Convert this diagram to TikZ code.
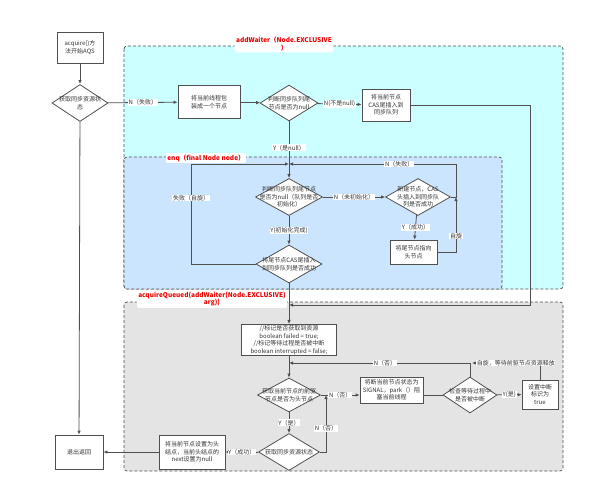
\documentclass[tikz,border=0pt]{standalone}
\usepackage{fontspec}
\newfontfamily\cjk{Noto Sans CJK SC}
\usepackage{tikz}
\definecolor{waitercyan}{RGB}{204,255,255}
\definecolor{enqblue}{RGB}{204,229,255}
\definecolor{queuedgray}{RGB}{228,228,228}
\definecolor{linegray}{RGB}{80,80,80}
\definecolor{titlered}{RGB}{235,0,0}
\usetikzlibrary{
  arrows.meta,
  positioning,
  shapes.geometric,
}
\tikzset{
  >={Latex[length=4pt,width=3.5pt]},
  txt/.style={font=\cjk\fontsize{6}{7.6}\selectfont,text=black!80},
  box/.style={txt,draw=linegray,fill=white,rectangle,align=center,inner sep=1pt,line width=0.8pt},
  choice/.style={draw=linegray,fill=white,diamond,inner sep=0pt,line width=0.8pt},
  lbl/.style={txt,fill=white,inner sep=0.6pt},
  region/.style={draw=linegray,dash pattern=on 3pt off 2pt,rounded corners=3pt,line width=0.7pt},
  title/.style={font=\cjk\fontsize{6.5}{7.6}\selectfont\bfseries,text=titlered,fill=white,rounded corners=2pt,align=center,inner sep=1.5pt},
  flow/.style={draw=linegray,line width=0.8pt},
}
\begin{document}
\begin{tikzpicture}[x=1pt,y=-1pt]
      \useasboundingbox (0,0) rectangle (591,500);
      % the three method regions
      \draw[region,fill=waitercyan] (124,46) rectangle (563,289);
      \draw[region,fill=enqblue] (124,157) rectangle (502,289);
      \draw[region,fill=queuedgray] (124,302) rectangle (563,471);
      \node[title] (twaiter) at (284,44) {addWaiter（Node.EXCLUSIVE\\）};
      \node[title] (tenq) at (206,158) {enq（final Node node）};
      \node[title] (tqueued) at (212,299) {acquireQueued(addWaiter(Node.EXCLUSIVE)\\arg))};

      % entry
      \node[box,minimum width=46,minimum height=31] (start) at (80,47.5) {acquire()方\\法开始AQS};
      \node[choice,minimum width=56,minimum height=37,label={[txt,align=center]center:获取同步资源状\\态}] (dget) at (80,103) {};
      \node[box,minimum width=48,minimum height=34] (exit) at (79,452) {退出返回};

      % addWaiter
      \node[box,minimum width=62,minimum height=33] (wrap) at (209,102) {将当前线程包\\装成一个节点};
      \node[choice,minimum width=58,minimum height=36,label={[txt,align=center]center:判断同步队列尾\\节点是否为null}] (dtail) at (289,103) {};
      \node[box,minimum width=48,minimum height=32] (casin) at (386,105) {将当前节点\\CAS尾插入到\\同步队列};

      % enq
      \node[choice,minimum width=67,minimum height=37,label={[txt,align=center]center:判断同步队列尾节点\\是否为null（队列是否\\初始化）}] (dinit) at (289,197) {};
      \node[choice,minimum width=66,minimum height=38,label={[txt,align=center]center:将尾节点CAS尾插入\\到同步队列是否成功}] (dcas) at (289,264) {};
      \node[choice,minimum width=65,minimum height=37,label={[txt,align=center]center:新建节点，CAS\\头插入到同步队\\列是否成功}] (dhead) at (418,197) {};
      \node[box,minimum width=47,minimum height=24] (tohead) at (413.5,252) {将尾节点指向\\头节点};

      % acquireQueued
      \node[box,minimum width=95,minimum height=31] (init) at (289,340) {//标记是否获取到资源\\boolean failed = true;\\//标记等待过程是否被中断\\boolean interrupted = false;};
      \node[choice,minimum width=63,minimum height=34,label={[txt,align=center]center:获取当前节点的前驱\\节点是否为头节点}] (dpred) at (289,395) {};
      \node[box,minimum width=63,minimum height=26] (park) at (391.5,390) {将断当前节点状态为\\SIGNAL，park（）阻\\塞当前线程};
      \node[choice,minimum width=54,minimum height=36,label={[txt,align=center]center:检查等待过程中\\是否被中断}] (dintr) at (470,395) {};
      \node[box,minimum width=36,minimum height=29] (setint) at (540,394.5) {设置中断\\标识为\\true};
      \node[choice,minimum width=61,minimum height=37,label={[txt,align=center]center:获取同步资源状态}] (dacq) at (289,452) {};
      \node[box,minimum width=66,minimum height=34] (sethead) at (192,452) {将当前节点设置为头\\结点，当前头结点的\\next设置为null};

      % junctions
      \coordinate (jt) at (289,164);
      \coordinate (jl) at (191,164);
      \coordinate (jh) at (456,197);
      \coordinate (rt) at (530,305);
      \coordinate (jq) at (289,305);
      \coordinate (jp) at (289,363);
      \coordinate (ja) at (472,363);
      \coordinate (jn) at (326,395);

      % connectors
      \draw[flow,->] (start) -- (dget);
      \draw[flow,->] (dget) -- (exit);
      \draw[flow,->] (dget) -- node[lbl] (lfail) {N（失败）} (wrap);
      \draw[flow,->] (wrap) -- (dtail);
      \draw[flow,->] (dtail) -- node[lbl] (lnotnull) {N(不是null)} (casin);
      \draw[flow,->] (casin.east) -| (rt) -- (jq);
      \draw[flow] (dtail.south) -- node[lbl,pos=0.62] (lisnull) {Y（是null）} (jt);
      \draw[flow,->] (jt) -- (dinit.north);
      \draw[flow,->] (dcas.west) -| node[lbl,pos=0.83] (lretry) {失败（自旋）} (jl) -- (jt);
      \draw[flow,->] (dinit) -- node[lbl] (lnoinit) {N（未初始化）} (dhead);
      \draw[flow,->] (dinit) -- node[lbl] (linit) {Y(初始化完成)} (dcas);
      \draw[flow,->] (dhead) -- node[lbl] (lheadok) {Y（成功）} (tohead);
      \draw[flow,->] (tohead.east) -| node[lbl,pos=0.645] (lspin) {自旋} (jh);
      \draw[flow,->] (dhead.east) -- (jh) |- node[lbl,pos=0.67] (lheadfail) {N（失败）} (jt);
      \draw[flow,->] (dcas.south) -- (init.north);
      \draw[flow,->] (init) -- (dpred);
      \draw[flow,->] (dintr.north) |- node[lbl,pos=0.735] (lnotint) {N（否）} (jp);
      \draw[flow,->] (setint.north) |- (ja);
      \node[lbl,anchor=west] (lwait) at (476,363) {自旋，等待前驱节点资源释放};
      \draw[flow,->] (dintr) -- node[lbl] (lisint) {Y(是)} (setint);
      \draw[flow] (dintr.west) -- (dintr.west -| park.east);
      \draw[flow,->] (dpred.east) -- node[lbl] (lnothead) {N（否）} (dpred.east -| park.west);
      \draw[flow,->] (dpred) -- node[lbl] (lishead) {Y（是）} (dacq);
      \draw[flow,->] (dacq.east) -| node[lbl,pos=0.71] (lacqfail) {N（否）} (jn);
      \draw[flow,->] (dacq) -- node[lbl] (lacqok) {Y（成功）} (sethead);
      \draw[flow,->] (sethead) -- (exit);
    \end{tikzpicture}
\end{document}
